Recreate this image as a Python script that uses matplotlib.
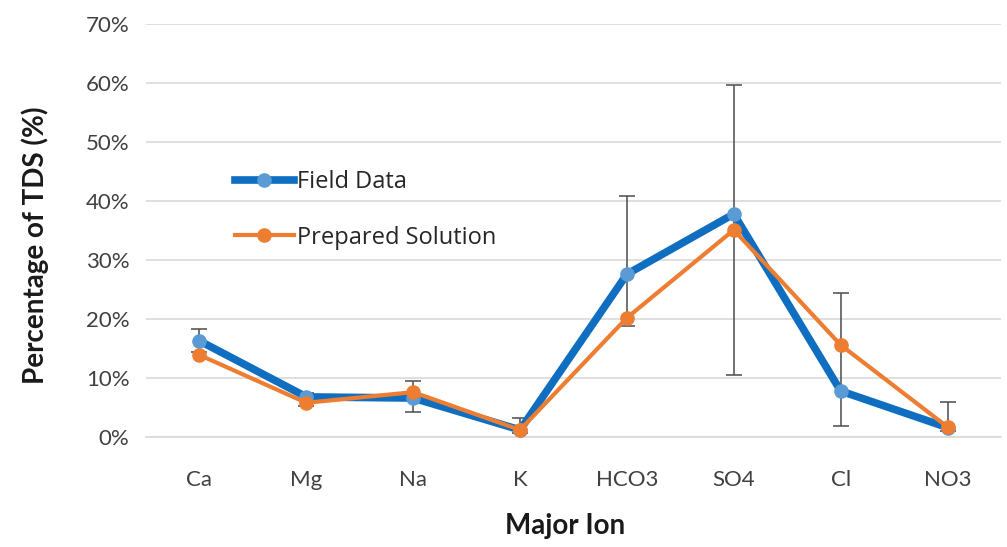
import matplotlib
matplotlib.use("Agg")
import matplotlib.pyplot as plt
import numpy as np

ions = ["Ca", "Mg", "Na", "K", "HCO3", "SO4", "Cl", "NO3"]
field = [16.3, 6.8, 6.6, 1.2, 27.6, 37.8, 7.8, 1.6]
prepared = [13.9, 5.8, 7.6, 1.2, 20.2, 35.1, 15.6, 1.7]
err_low = [14.4, 5.2, 4.2, 0.6, 18.8, 10.5, 1.9, 1.0]
err_high = [18.3, 7.4, 9.5, 3.2, 40.8, 59.7, 24.4, 5.9]
yticks = [0, 10, 20, 30, 40, 50, 60, 70]

plt.rcParams['font.family'] = ['Lato', 'DejaVu Sans']

fig = plt.figure(figsize=(10.07, 5.47), dpi=100)
ax = fig.add_axes([0.145, 0.2011, 0.849, 0.755])

x = np.arange(len(ions))
center = [(l + h) / 2 for l, h in zip(err_low, err_high)]
yerr = [[c - l for c, l in zip(center, err_low)], [h - c for h, c in zip(err_high, center)]]
ax.errorbar(x, center, yerr=yerr, fmt='none', ecolor='#595959', elinewidth=1.2,
            capsize=6, capthick=1.2, zorder=2)

ax.plot(x, field, color='#0F6EC0', lw=5.5, marker='o', ms=9.5,
        markerfacecolor='#5B9BD5', markeredgecolor='#5B9BD5', label='Field Data', zorder=3)
ax.plot(x, prepared, color='#ED7D31', lw=3, marker='o', ms=9.5,
        markerfacecolor='#ED7D31', markeredgecolor='#ED7D31', label='Prepared Solution', zorder=4)

ax.set_xlim(-0.5, len(ions) - 0.5)
ax.set_ylim(0, 70)
ax.set_yticks(yticks)
ax.set_yticklabels([f"{v}%" for v in yticks])
ax.set_xticks(x)
ax.set_xticklabels(ions)
ax.tick_params(axis='both', length=0, labelsize=16, colors='#404040', labelcolor='#404040')
ax.tick_params(axis='x', pad=24)
ax.tick_params(axis='y', pad=12)
ax.grid(axis='y', color='#D9D9D9', lw=1.2)
ax.set_axisbelow(True)
for s in ['top', 'right', 'left']:
    ax.spines[s].set_visible(False)
ax.spines['bottom'].set_color('#D9D9D9')
ax.spines['bottom'].set_linewidth(1.2)

ax.set_xlabel("Major Ion", fontsize=20, fontweight='bold', color='#1a1a1a')
ax.set_ylabel("Percentage of TDS (%)", fontsize=20, fontweight='bold', color='#1a1a1a')
ax.xaxis.set_label_coords(0.49, -0.184)
ax.yaxis.set_label_coords(-0.114, 0.465)

leg = ax.legend(loc='upper left', bbox_to_anchor=(0.104, 0.646), frameon=False,
                prop={'family': ['Open Sans', 'DejaVu Sans'], 'size': 17},
                labelspacing=1.33, handlelength=2.5, handletextpad=0.15,
                borderaxespad=0, borderpad=0)
for t in leg.get_texts():
    t.set_color('#262626')

fig.savefig("out.png", dpi=100)
